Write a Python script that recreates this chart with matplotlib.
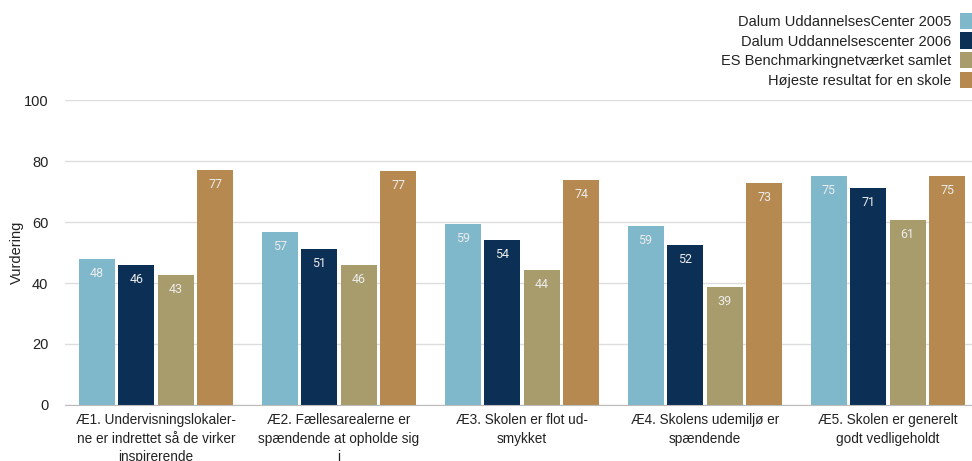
import matplotlib
matplotlib.use("Agg")
import matplotlib.pyplot as plt
import numpy as np

categories = [
    "Æ1. Undervisningslokaler-\nne er indrettet så de virker\ninspirerende",
    "Æ2. Fællesarealerne er\nspændende at opholde sig\ni",
    "Æ3. Skolen er flot ud-\nsmykket",
    "Æ4. Skolens udemiljø er\nspændende",
    "Æ5. Skolen er generelt\ngodt vedligeholdt",
]
series_names = [
    "Dalum UddannelsesCenter 2005",
    "Dalum Uddannelsescenter 2006",
    "ES Benchmarkingnetværket samlet",
    "Højeste resultat for en skole",
]
dalum_2005 = [47.9, 56.7, 59.3, 58.7, 75.1]
dalum_2006 = [45.9, 51.1, 54.1, 52.5, 71.1]
es_bench = [42.6, 45.9, 44.4, 38.7, 60.7]
hoejeste = [77.0, 76.7, 73.8, 72.8, 75.1]
series_values = [dalum_2005, dalum_2006, es_bench, hoejeste]
colors = ["#7fb7cb", "#0b2f55", "#a99c6c", "#b5894f"]
yticks = [0, 20, 40, 60, 80, 100]

plt.rcParams['font.family'] = ['Liberation Sans', 'DejaVu Sans']
fig = plt.figure(figsize=(9.72, 4.61), dpi=100)
ax = fig.add_axes([0.067, 0.1215, 0.933, 0.6615])

x = np.arange(len(categories))
step = 0.216
width = 0.197
handles = []
for i, (vals, c) in enumerate(zip(series_values, colors)):
    pos = x + (i - 1.5) * step
    bars = ax.bar(pos, vals, width=width, color=c, label=series_names[i], zorder=3)
    handles.append(bars)
    for b, v in zip(bars, vals):
        ax.text(b.get_x() + b.get_width() / 2, v - 2.6, f"{v:.0f}",
                ha="center", va="top", color="#ececec", fontsize=9,
                family="Roboto", zorder=4)

ax.set_xlim(-0.497, 4.46)
ax.set_ylim(0, 100)
ax.set_yticks(yticks)
ax.set_yticklabels([str(t) for t in yticks], fontsize=10.5, color="#222222")
ax.set_xticks(x)
ax.set_xticklabels(categories, fontsize=9.8, color="#222222", linespacing=1.4)
ax.tick_params(axis="both", length=0, pad=6)
ax.tick_params(axis="y", pad=12)
ax.set_ylabel("Vurdering", fontsize=10.5, color="#222222")
ax.yaxis.set_label_coords(-0.045, 0.5)
ax.grid(axis="y", color="#dddddd", linewidth=1, zorder=0)
for s in ["top", "right", "left"]:
    ax.spines[s].set_visible(False)
ax.spines["bottom"].set_color("#bbbbbb")
ax.spines["bottom"].set_zorder(5)

leg = fig.legend(handles=handles, labels=series_names, loc="upper right",
                 bbox_to_anchor=(1.0, 0.972), frameon=False, markerfirst=False,
                 fontsize=10.5, handlelength=0.8, handleheight=1.35,
                 handletextpad=0.6, labelspacing=0.22, borderpad=0,
                 borderaxespad=0)
for t in leg.get_texts():
    t.set_color("#222222")

fig.savefig("out.png", dpi=100)
